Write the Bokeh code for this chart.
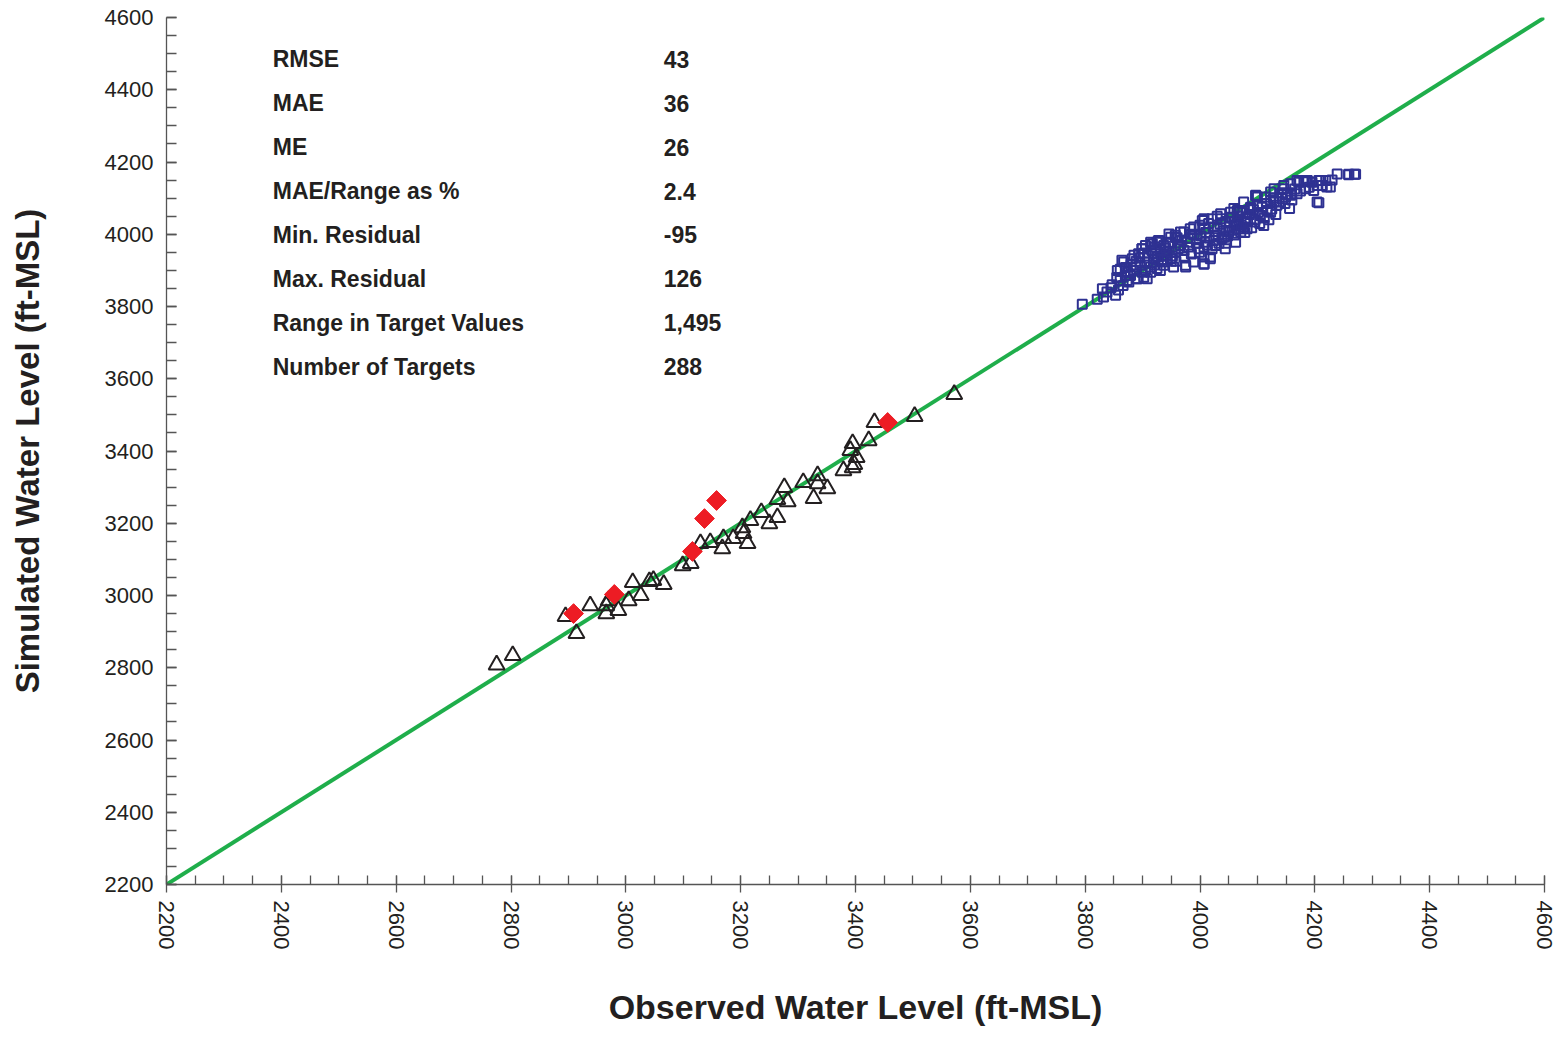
from bokeh.plotting import figure
from bokeh.models import Range1d, SingleIntervalTicker
from bokeh.core.properties import value
from bokeh.embed import file_html
from bokeh.resources import INLINE

# ---------------- data ----------------
# Black triangles (observed, simulated)
tri_obs = [2775, 2803, 2895, 2914, 2938, 2966, 2966, 2970, 2987, 3005, 3012, 3026, 3048, 3066,
           3041, 3099, 3113, 3130, 3147, 3170, 3168, 3187, 3203, 3205, 3212, 3217, 3236, 3250,
           3264, 3264, 3276, 3282, 3309, 3327, 3334, 3334, 3351, 3379, 3395, 3402, 3391, 3395,
           3398, 3423, 3433, 3503, 3572]
tri_sim = [2808, 2834, 2942, 2895, 2972, 2972, 2950, 2986, 2959, 2986, 3036, 3000, 3042, 3031,
           3039, 3083, 3089, 3144, 3147, 3158, 3130, 3158, 3188, 3172, 3144, 3208, 3230, 3199,
           3216, 3266, 3299, 3260, 3313, 3269, 3332, 3310, 3296, 3346, 3354, 3382, 3402, 3421,
           3363, 3429, 3479, 3496, 3557]

# Red diamonds
dia_obs = [2909, 2980, 3116, 3137, 3158, 3456]
dia_sim = [2950, 3003, 3122, 3213, 3263, 3479]

# Blue squares
sq_obs = [3795, 3821, 3830, 3838, 3847, 3853, 3832, 3861, 3870, 3861, 3876, 3867, 3882, 3888,
          3893, 3899, 3905, 3914, 3928, 3937, 3931, 3920, 3908, 3899, 3914, 3925, 3937, 3943,
          3896, 3890, 3879, 3908,
          3925, 3931, 3922, 3940, 3919, 3937, 3949, 3957, 3972, 3978, 3966, 3957, 3972, 3975,
          3989, 3989, 4004, 4007, 3995, 4009, 3998, 4007, 4018, 4007, 4021, 4036, 4030, 4038,
          4027, 4050, 4059, 4053, 4070, 4079, 4068, 4062, 4044, 4082, 3983, 3948, 3946,
          4239, 4259, 4269, 4227, 4207, 4156, 4210, 4219, 4195, 4198, 4184, 4172, 4169, 4158,
          4158, 4146, 4143, 4129, 4129, 4123, 4114, 4097, 4100, 4088, 4105, 4079, 4065, 4062,
          4094, 4071, 4111, 4134, 4149, 4184,
          4097, 4204, 4221, 4207, 4187, 4123, 4117, 4088, 4065, 4053, 4076, 4059, 4042, 4024,
          4007, 4018, 4007, 3975, 3954, 3943, 3931, 3914, 3902, 3891, 3873, 3856, 3864, 3885,
          3899, 3917, 3928, 3949, 3957, 3966, 3983, 4007, 4036, 4059, 4076, 4100, 4123, 4146,
          4169, 4181, 4204, 4259, 4271,
          3845, 3858, 3866, 3874, 3884, 3889, 3895, 3903, 3910, 3916, 3922, 3927, 3933, 3940,
          3945, 3952, 3958, 3962, 3968, 3972, 3980, 3985, 3990, 3994, 3999, 4002, 4010, 4013,
          4016, 4021, 4025, 4028, 4033, 4035, 4040, 4045, 4048, 4052, 4056, 4060, 4064, 4067,
          4072, 4075, 4078, 4083, 4086, 4090, 4093, 4096, 4101, 4104, 4108, 4112, 4116, 4120,
          4125, 4128, 4132, 4138, 4142, 4148, 4152, 4160, 4165, 4175, 4190, 4213, 4230,
          3880, 3905, 3920, 3950, 3960, 3985, 4000, 4015, 4030, 4045, 3870, 3855]
sq_sim = [3806, 3820, 3849, 3840, 3860, 3831, 3826, 3903, 3886, 3872, 3868, 3923, 3932, 3909,
          3946, 3960, 3969, 3978, 3983, 3969, 3951, 3932, 3923, 3895, 3895, 3905, 3923, 3951,
          3914, 3877, 3886, 3877,
          3978, 3960, 3946, 3941, 3923, 3914, 3932, 3992, 4006, 3978, 3969, 3951, 3937, 3914,
          3923, 4020, 4038, 4015, 3988, 3978, 3960, 3937, 3937, 3918, 4043, 4043, 4015, 3988,
          3969, 4006, 4034, 4061, 4066, 4043, 4015, 3978, 3960, 4015, 3988, 3978, 4001,
          4167, 4165, 4166, 4131, 4087, 4071, 4149, 4149, 4144, 4121, 4149, 4144, 4112, 4140,
          4108, 4126, 4098, 4126, 4089, 4061, 4103, 4107, 4080, 4071, 4052, 4043, 4061, 4024,
          4034, 4006, 4024, 4080, 4103, 4126,
          4108, 4089, 4131, 4149, 4149, 4094, 4066, 4075, 4066, 4047, 4020, 4011, 3992, 3983,
          3965, 3932, 3917, 3909, 3909, 3928, 3900, 3909, 3881, 3877, 3872, 3900, 3928, 3942,
          3960, 3974, 3983, 3992, 3997, 4006, 4015, 4043, 4057, 4071, 4089, 4103, 4117, 4135,
          4149, 4145, 4135, 4166, 4166,
          3852, 3846, 3858, 3895, 3900, 3925, 3935, 3948, 3940, 3955, 3965, 3938, 3930, 3962,
          3975, 3940, 3925, 3960, 3984, 3955, 3965, 3945, 3998, 3975, 3950, 3995, 4005, 3970,
          3990, 3960, 4020, 3998, 3975, 4028, 4008, 4035, 3995, 4020, 4045, 3998, 4030, 4050,
          4025, 4060, 4005, 4035, 4055, 4018, 4068, 4040, 4060, 4030, 4075, 4045, 4085, 4040,
          4070, 4100, 4055, 4090, 4115, 4085, 4110, 4095, 4125, 4120, 4130, 4135, 4150,
          3915, 3900, 3915, 3925, 3990, 4000, 4025, 4030, 4050, 3975, 3908, 3880]

# 1:1 line
line_x = [2200, 4600]
line_y = [2200, 4600]

# Calibration statistics
stat_names = ["RMSE", "MAE", "ME", "MAE/Range as %", "Min. Residual", "Max. Residual",
              "Range in Target Values", "Number of Targets"]
stat_values = ["43", "36", "26", "2.4", "-95", "126", "1,495", "288"]

# ---------------- figure ----------------
FONT = "Liberation Sans"
p = figure(width=1556, height=1029, x_range=Range1d(2200, 4600), y_range=Range1d(2200, 4600),
           output_backend="svg", toolbar_location=None,
           min_border_left=166, min_border_right=12, min_border_top=17, min_border_bottom=145)
p.outline_line_color = None
p.xgrid.visible = False
p.ygrid.visible = False
p.background_fill_color = "white"
p.border_fill_color = "white"

p.xaxis.ticker = SingleIntervalTicker(interval=200, num_minor_ticks=4)
p.yaxis.ticker = SingleIntervalTicker(interval=200, num_minor_ticks=4)

for ax in (p.xaxis[0], p.yaxis[0]):
    ax.axis_line_color = "#555555"
    ax.axis_line_width = 1.3
    ax.major_tick_line_color = "#555555"
    ax.minor_tick_line_color = "#555555"
    ax.major_tick_line_width = 1.3
    ax.minor_tick_line_width = 1.3
    ax.major_label_text_font = FONT
    ax.major_label_text_font_size = "22px"
    ax.major_label_text_color = "#231f20"
    ax.axis_label_text_font = FONT
    ax.axis_label_text_font_style = "bold"
    ax.axis_label_text_font_size = "33px"
    ax.axis_label_text_color = "#231f20"

p.xaxis.major_tick_in = 9
p.xaxis.major_tick_out = 8
p.xaxis.minor_tick_in = 9
p.xaxis.minor_tick_out = 0
p.xaxis.major_label_orientation = "vertical"
p.xaxis.major_label_standoff = 8
p.xaxis.axis_label = "Observed Water Level (ft-MSL)"
p.xaxis.axis_label_text_font_size = "34px"
p.xaxis.axis_label_standoff = 36

p.yaxis.major_tick_in = 10
p.yaxis.major_tick_out = 0
p.yaxis.minor_tick_in = 10
p.yaxis.minor_tick_out = 0
p.yaxis.major_label_standoff = 13
p.yaxis.axis_label = "Simulated Water Level (ft-MSL)"
p.yaxis.axis_label_standoff = 56

# 1:1 line
p.line(line_x, line_y, line_color="#1fae4b", line_width=4)

# markers
p.scatter(sq_obs, sq_sim, marker="square", size=9, fill_color=None,
          line_color="#2e3192", line_width=2)
p.scatter(tri_obs, tri_sim, marker="triangle", size=16, fill_color=None,
          line_color="#231f20", line_width=2)
p.scatter(dia_obs, dia_sim, marker="square", angle=0.785398, size=14,
          fill_color="#ed1c24", line_color="#ed1c24", line_width=1)

# statistics table
row0 = 4484
step = 121.5
ys = [row0 - i * step for i in range(len(stat_names))]
p.text(x=[2385] * len(stat_names), y=ys, text=stat_names, text_font=value(FONT),
       text_font_style="bold", text_font_size="23px", text_baseline="middle",
       text_color="#231f20")
p.text(x=[3066] * len(stat_values), y=ys, text=stat_values, text_font=value(FONT),
       text_font_style="bold", text_font_size="23px", text_baseline="middle",
       text_color="#231f20")

open("out.html", "w").write(file_html(p, INLINE))
